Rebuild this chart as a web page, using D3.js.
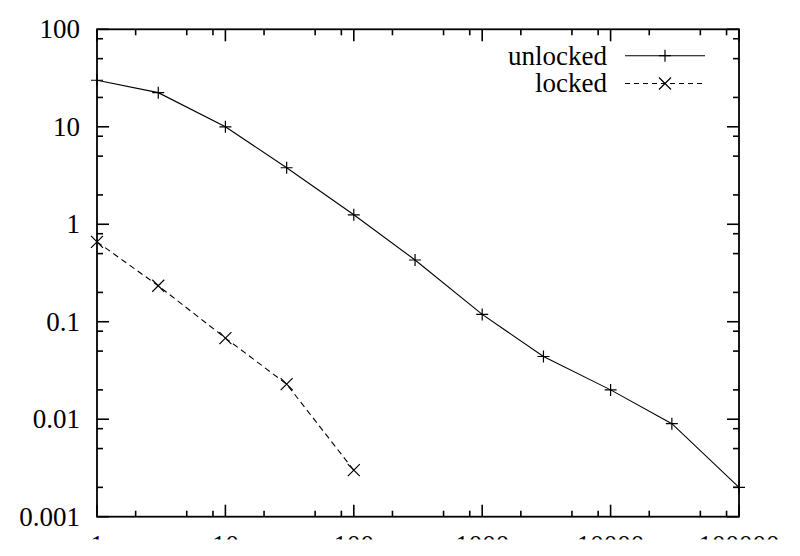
<!DOCTYPE html>
<html>
<head>
<meta charset="utf-8">
<script src="https://cdn.jsdelivr.net/npm/d3@7"></script>
<style>
  html, body { margin: 0; padding: 0; background: #fff; }
  svg { display: block; }
  text { font-family: "Liberation Serif", "Times New Roman", serif; fill: #000; }
</style>
</head>
<body>
<svg id="chart" width="800" height="556"></svg>
<script>
// ---- data ----
const unlockedX = [1, 3, 10, 30, 100, 300, 1000, 3000, 10000, 30000, 100000];
const unlockedY = [30, 22.4, 10, 3.8, 1.25, 0.43, 0.119, 0.044, 0.020, 0.0090, 0.0020];
const lockedX = [1, 3, 10, 30, 100];
const lockedY = [0.66, 0.234, 0.068, 0.0229, 0.003];
const xTickValues = [1, 10, 100, 1000, 10000, 100000];
const xTickLabels = ["1", "10", "100", "1000", "10000", "100000"];
const yTickValues = [0.001, 0.01, 0.1, 1, 10, 100];
const yTickLabels = ["0.001", "0.01", "0.1", "1", "10", "100"];
const minorMultipliers = [2, 5, 8];
const seriesNames = ["unlocked", "locked"];

(function () {
const svg = d3.select("#chart");
const pLeft = 97, pRight = 739, pTop = 29.3, pBottom = 516.7;
const x = d3.scaleLog().domain([1, 100000]).range([pLeft, pRight]);
const y = d3.scaleLog().domain([0.001, 100]).range([pBottom, pTop]);

const fontSize = 27;
const majorLen = 12, minorLen = 6;

const xMinor = [];
xTickValues.slice(0, -1).forEach(v => minorMultipliers.forEach(m => xMinor.push(v * m)));
const yMinor = [];
yTickValues.slice(0, -1).forEach(v => minorMultipliers.forEach(m => yMinor.push(v * m)));

const axes = svg.append("g").attr("stroke", "#000").attr("stroke-width", 1.6);

xTickValues.forEach(v => {
  axes.append("line").attr("x1", x(v)).attr("x2", x(v)).attr("y1", pBottom).attr("y2", pBottom - majorLen);
  axes.append("line").attr("x1", x(v)).attr("x2", x(v)).attr("y1", pTop).attr("y2", pTop + majorLen);
});
xMinor.forEach(v => {
  axes.append("line").attr("x1", x(v)).attr("x2", x(v)).attr("y1", pBottom).attr("y2", pBottom - minorLen);
  axes.append("line").attr("x1", x(v)).attr("x2", x(v)).attr("y1", pTop).attr("y2", pTop + minorLen);
});
yTickValues.forEach(v => {
  axes.append("line").attr("y1", y(v)).attr("y2", y(v)).attr("x1", pLeft).attr("x2", pLeft + majorLen);
  axes.append("line").attr("y1", y(v)).attr("y2", y(v)).attr("x1", pRight).attr("x2", pRight - majorLen);
});
yMinor.forEach(v => {
  axes.append("line").attr("y1", y(v)).attr("y2", y(v)).attr("x1", pLeft).attr("x2", pLeft + minorLen);
  axes.append("line").attr("y1", y(v)).attr("y2", y(v)).attr("x1", pRight).attr("x2", pRight - minorLen);
});

svg.append("rect")
  .attr("x", pLeft).attr("y", pTop)
  .attr("width", pRight - pLeft).attr("height", pBottom - pTop)
  .attr("fill", "none").attr("stroke", "#000").attr("stroke-width", 1.8);

svg.append("g").selectAll("text").data(yTickValues).join("text")
  .attr("x", 80).attr("y", d => y(d)).attr("dy", "0.34em")
  .attr("text-anchor", "end").attr("font-size", fontSize)
  .text((d, i) => yTickLabels[i]);

// x labels: the reference image is cut off just below their tops
svg.append("defs").append("clipPath").attr("id", "xclip")
  .append("rect").attr("x", 0).attr("y", 0).attr("width", 800).attr("height", 539.5);
svg.append("g").attr("clip-path", "url(#xclip)").selectAll("text").data(xTickValues).join("text")
  .attr("x", d => x(d)).attr("y", 553.5)
  .attr("text-anchor", "middle").attr("font-size", fontSize)
  .text((d, i) => xTickLabels[i]);

const line = d3.line().x(d => x(d[0])).y(d => y(d[1]));
const uData = unlockedX.map((v, i) => [v, unlockedY[i]]);
const lData = lockedX.map((v, i) => [v, lockedY[i]]);

svg.append("path").datum(uData).attr("d", line)
  .attr("fill", "none").attr("stroke", "#000").attr("stroke-width", 1.1);
svg.append("path").datum(lData).attr("d", line)
  .attr("fill", "none").attr("stroke", "#000").attr("stroke-width", 1.1)
  .attr("stroke-dasharray", "6,4");

const ps = 6, xs = 6;
function plus(g, cx, cy) {
  g.append("path").attr("d", `M${cx - ps},${cy}H${cx + ps}M${cx},${cy - ps}V${cy + ps}`)
    .attr("stroke", "#000").attr("stroke-width", 1.2).attr("fill", "none");
}
function cross(g, cx, cy) {
  g.append("path").attr("d", `M${cx - xs},${cy - xs}L${cx + xs},${cy + xs}M${cx - xs},${cy + xs}L${cx + xs},${cy - xs}`)
    .attr("stroke", "#000").attr("stroke-width", 1.2).attr("fill", "none");
}
const marks = svg.append("g");
uData.forEach(d => plus(marks, x(d[0]), y(d[1])));
lData.forEach(d => cross(marks, x(d[0]), y(d[1])));

const legend = svg.append("g");
const legRows = [
  { name: seriesNames[0], dash: null, marker: plus, yLine: 55.7 },
  { name: seriesNames[1], dash: "5,4", marker: cross, yLine: 83.5 }
];
legRows.forEach(r => {
  legend.append("text").attr("x", 607).attr("y", r.yLine).attr("dy", "0.33em")
    .attr("text-anchor", "end").attr("font-size", fontSize).text(r.name);
  legend.append("line").attr("x1", 625).attr("x2", 705).attr("y1", r.yLine).attr("y2", r.yLine)
    .attr("stroke", "#000").attr("stroke-width", 1.1)
    .attr("stroke-dasharray", r.dash);
  r.marker(legend, 665, r.yLine);
});
})();
</script>
</body>
</html>
